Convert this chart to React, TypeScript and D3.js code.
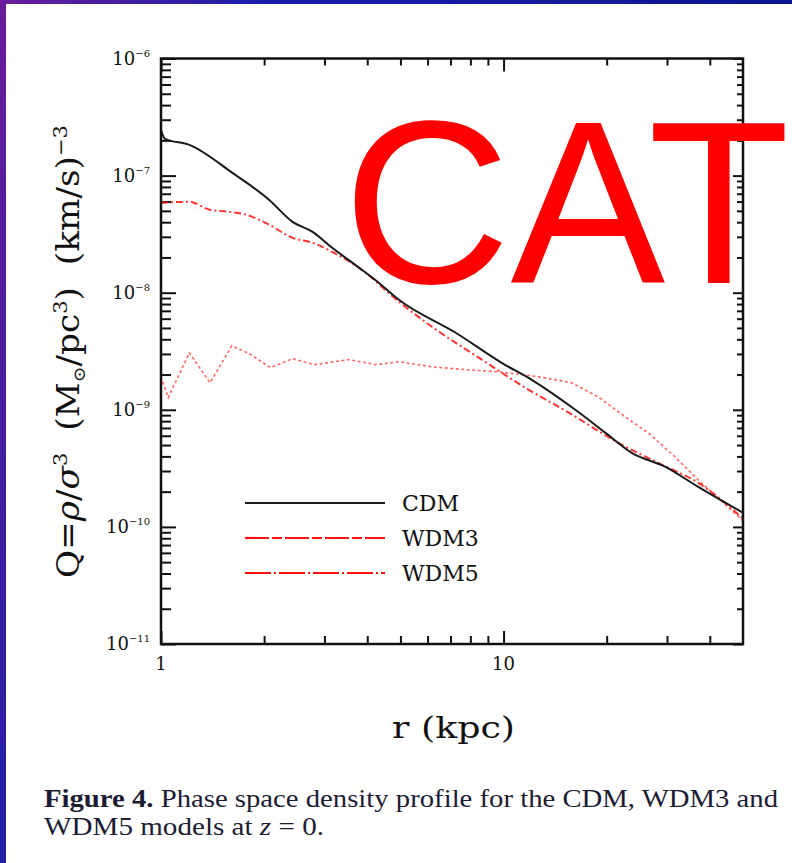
import { useEffect, useRef } from "react";
import * as d3 from "d3";

// radius (kpc) and phase-space density Q for each model
const cdmR = [1.0, 1.027, 1.21, 1.62, 2.07, 2.42, 2.77, 3.16, 3.79, 4.33, 4.95, 7.25, 9.87, 12.05, 16.2, 19.8, 23.6, 29.6, 36.9, 50];
const cdmQ = [2.45e-7, 2.06e-7, 1.83e-7, 1.05e-7, 6.2e-8, 4.03e-8, 3.31e-8, 2.42e-8, 1.63e-8, 1.21e-8, 8.7e-9, 4.55e-9, 2.52e-9, 1.81e-9, 1.0e-9, 6.38e-10, 4.31e-10, 3.27e-10, 2.21e-10, 1.32e-10];

const wdm3R = [1.0, 1.21, 1.39, 1.59, 1.78, 2.07, 2.42, 2.77, 3.16, 3.79, 4.95, 6.18, 8.46, 11.8, 15.5, 21.6, 28.2, 36.9, 50];
const wdm3Q = [5.85e-8, 5.97e-8, 5.1e-8, 4.9e-8, 4.62e-8, 3.8e-8, 2.94e-8, 2.67e-8, 2.23e-8, 1.63e-8, 8.36e-9, 5.12e-9, 2.79e-9, 1.49e-9, 9.45e-10, 5.24e-10, 3.53e-10, 2.39e-10, 1.18e-10];

const wdm5R = [1.0, 1.05, 1.21, 1.39, 1.61, 1.81, 2.09, 2.42, 2.8, 3.54, 4.24, 4.95, 6.18, 7.75, 9.67, 12.6, 15.8, 18.9, 22.6, 26.4, 31.6, 36.9, 50];
const wdm5Q = [1.92e-9, 1.27e-9, 3.07e-9, 1.7e-9, 3.52e-9, 3.01e-9, 2.29e-9, 2.73e-9, 2.43e-9, 2.68e-9, 2.43e-9, 2.57e-9, 2.33e-9, 2.2e-9, 2.11e-9, 1.92e-9, 1.7e-9, 1.29e-9, 8.73e-10, 6.37e-10, 3.98e-10, 2.54e-10, 1.13e-10];

const xMajorTicks = [1, 10];
const xTickLabels = ["1", "10"];
const yTickExponents = [-6, -7, -8, -9, -10, -11];
const legendLabels = ["CDM", "WDM3", "WDM5"];

export default function App() {
	const svgRef = useRef<SVGSVGElement>(null);

	useEffect(() => {
		if (!svgRef.current) return;
		const svg = d3.select(svgRef.current);
		svg.selectAll("*").remove();

		const width = 792;
		const height = 863;
		const left = 161;
		const right = 743;
		const top = 58.5;
		const bottom = 644;
		const serif = "'DejaVu Serif', serif";

		// background: space picture peeking around a white page
		const defs = svg.append("defs");
		const bg = defs
			.append("linearGradient")
			.attr("id", "bg")
			.attr("x1", "0%")
			.attr("y1", "0%")
			.attr("x2", "100%")
			.attr("y2", "30%");
		bg.append("stop").attr("offset", "0%").attr("stop-color", "#6a1c9c");
		bg.append("stop").attr("offset", "30%").attr("stop-color", "#1b1fa8");
		bg.append("stop").attr("offset", "100%").attr("stop-color", "#0b1590");
		defs
			.append("clipPath")
			.attr("id", "plot-clip")
			.append("rect")
			.attr("x", left)
			.attr("y", top)
			.attr("width", right - left)
			.attr("height", bottom - top);

		svg.append("rect").attr("width", width).attr("height", height).attr("fill", "url(#bg)");
		svg.append("rect").attr("x", 6).attr("y", 4).attr("width", width - 6).attr("height", height - 4).attr("fill", "white");

		const x = d3.scaleLog().domain([1, 50]).range([left, right]);
		const y = d3.scaleLog().domain([1e-11, 1e-6]).range([bottom, top]);

		const isMajor = (v: number) => Math.abs(Math.log10(v) - Math.round(Math.log10(v))) < 1e-6;
		const xMinor = x.ticks().filter((v) => !isMajor(v) && v < 50);
		const yMajor = yTickExponents.map((e) => Math.pow(10, e));
		const yMinor = y.ticks().filter((v) => !isMajor(v));

		const styleTicks = (g: d3.Selection<SVGGElement, unknown, null, undefined>) => {
			g.select(".domain").remove();
			g.selectAll(".tick line").attr("stroke", "#111").attr("stroke-width", 2);
			g.selectAll(".tick text").remove();
		};

		const axes = svg.append("g");
		const addAxis = (axis: d3.Axis<number>, tx: number, ty: number) => {
			axes
				.append("g")
				.attr("transform", `translate(${tx},${ty})`)
				.call(axis as any)
				.call(styleTicks as any);
		};
		addAxis(d3.axisBottom<number>(x).tickValues(xMajorTicks).tickSize(-13), 0, bottom);
		addAxis(d3.axisBottom<number>(x).tickValues(xMinor).tickSize(-8), 0, bottom);
		addAxis(d3.axisTop<number>(x).tickValues(xMajorTicks).tickSize(-13), 0, top);
		addAxis(d3.axisTop<number>(x).tickValues(xMinor).tickSize(-7), 0, top);
		addAxis(d3.axisLeft<number>(y).tickValues(yMajor).tickSize(-15), left, 0);
		addAxis(d3.axisLeft<number>(y).tickValues(yMinor).tickSize(-10), left, 0);
		addAxis(d3.axisRight<number>(y).tickValues(yMajor).tickSize(-10), right, 0);
		addAxis(d3.axisRight<number>(y).tickValues(yMinor).tickSize(-6), right, 0);

		// curves
		const plot = svg.append("g").attr("clip-path", "url(#plot-clip)");
		const series = [
			{ r: wdm5R, q: wdm5Q, color: "#ff2a2a", width: 1.6, dash: "3,2.5", opacity: 0.7, curve: d3.curveLinear },
			{ r: wdm3R, q: wdm3Q, color: "#ff1010", width: 2, dash: "7,3,2,3", opacity: 0.85, curve: d3.curveMonotoneX },
			{ r: cdmR, q: cdmQ, color: "#1a1a1a", width: 2, dash: null, opacity: 1, curve: d3.curveMonotoneX },
		];
		series.forEach((s) => {
			const line = d3
				.line<number>()
				.x((_, i) => x(s.r[i]))
				.y((d) => y(d))
				.curve(s.curve);
			plot
				.append("path")
				.datum(s.q)
				.attr("fill", "none")
				.attr("stroke", s.color)
				.attr("stroke-width", s.width)
				.attr("stroke-opacity", s.opacity)
				.attr("stroke-dasharray", s.dash)
				.attr("d", line);
		});

		// frame
		svg.append("rect")
			.attr("x", left)
			.attr("y", top)
			.attr("width", right - left)
			.attr("height", bottom - top)
			.attr("fill", "none")
			.attr("stroke", "#111")
			.attr("stroke-width", 2.5);

		// y tick labels
		yTickExponents.forEach((e) => {
			const t = svg
				.append("text")
				.attr("x", 150)
				.attr("y", y(Math.pow(10, e)) + 6)
				.attr("text-anchor", "end")
				.attr("font-family", serif)
				.attr("font-size", 18)
				.attr("fill", "#111");
			t.append("tspan").text("10");
			t.append("tspan").attr("dy", -8).attr("font-size", 10).text(`\u2212${-e}`);
		});

		// x tick labels
		xMajorTicks.forEach((v, i) => {
			svg.append("text")
				.attr("x", x(v))
				.attr("y", 670)
				.attr("text-anchor", "middle")
				.attr("font-family", serif)
				.attr("font-size", 18)
				.attr("fill", "#111")
				.text(xTickLabels[i]);
		});

		// axis titles
		svg.append("text")
			.attr("x", 453.5)
			.attr("y", 738)
			.attr("text-anchor", "middle")
			.attr("font-family", serif)
			.attr("font-size", 29)
			.attr("fill", "#111")
			.attr("textLength", 123)
			.attr("lengthAdjust", "spacingAndGlyphs")
			.text("r (kpc)");

		const yl = svg
			.append("text")
			.attr("transform", "translate(79,351.5) rotate(-90)")
			.attr("text-anchor", "middle")
			.attr("font-family", serif)
			.attr("font-size", 31)
			.attr("fill", "#111")
			.attr("textLength", 453)
			.attr("lengthAdjust", "spacingAndGlyphs")
			.style("white-space", "pre");
		yl.append("tspan").text("Q=");
		yl.append("tspan").attr("font-style", "italic").text("\u03C1");
		yl.append("tspan").text("/");
		yl.append("tspan").attr("font-style", "italic").text("\u03C3");
		yl.append("tspan").attr("dy", -12).attr("font-size", 19).text("3");
		yl.append("tspan").attr("dy", 12).text("  (M");
		yl.append("tspan").attr("dy", 6).attr("font-size", 17).text("\u2299");
		yl.append("tspan").attr("dy", -6).text("/pc");
		yl.append("tspan").attr("dy", -12).attr("font-size", 19).text("3");
		yl.append("tspan").attr("dy", 12).text(")  (km/s)");
		yl.append("tspan").attr("dy", -12).attr("font-size", 19).text("\u22123");

		// legend
		const legendStyles = [
			{ color: "#1a1a1a", dash: null },
			{ color: "#ff1010", dash: "24,3,10,3" },
			{ color: "#ff1010", dash: "26,3,2,3" },
		];
		legendLabels.forEach((label, i) => {
			const ly = 503 + i * 35;
			svg.append("line")
				.attr("x1", 245)
				.attr("x2", 385)
				.attr("y1", ly)
				.attr("y2", ly)
				.attr("stroke", legendStyles[i].color)
				.attr("stroke-width", 2.2)
				.attr("stroke-dasharray", legendStyles[i].dash);
			svg.append("text")
				.attr("x", 402)
				.attr("y", ly + 7.5)
				.attr("font-family", serif)
				.attr("font-size", 22)
				.attr("fill", "#111")
				.text(label);
		});

		// caption
		const c1 = svg
			.append("text")
			.attr("x", 44)
			.attr("y", 807)
			.attr("font-family", "'Liberation Serif', serif")
			.attr("font-size", 25)
			.attr("fill", "#1c1c34")
			.attr("textLength", 734)
			.attr("lengthAdjust", "spacingAndGlyphs");
		c1.append("tspan").attr("font-weight", "bold").text("Figure 4.");
		c1.append("tspan").text(" Phase space density profile for the CDM, WDM3 and");
		const c2 = svg
			.append("text")
			.attr("x", 44)
			.attr("y", 835)
			.attr("font-family", "'Liberation Serif', serif")
			.attr("font-size", 25)
			.attr("fill", "#1c1c34")
			.attr("textLength", 280)
			.attr("lengthAdjust", "spacingAndGlyphs")
			.style("white-space", "pre");
		c2.append("tspan").text("WDM5 models at ");
		c2.append("tspan").attr("font-style", "italic").text("z");
		c2.append("tspan").text(" = 0.");

		// overlay word
		svg.append("text")
			.attr("x", 343)
			.attr("y", 283)
			.attr("font-family", "'Liberation Sans', Arial, sans-serif")
			.attr("font-size", 232)
			.attr("fill", "#ff0000")
			.text("CAT");
	}, []);

	return (
		<svg
			ref={svgRef}
			width={792}
			height={863}
			style={{ position: "absolute", left: 0, top: 0 }}
		/>
	);
}
